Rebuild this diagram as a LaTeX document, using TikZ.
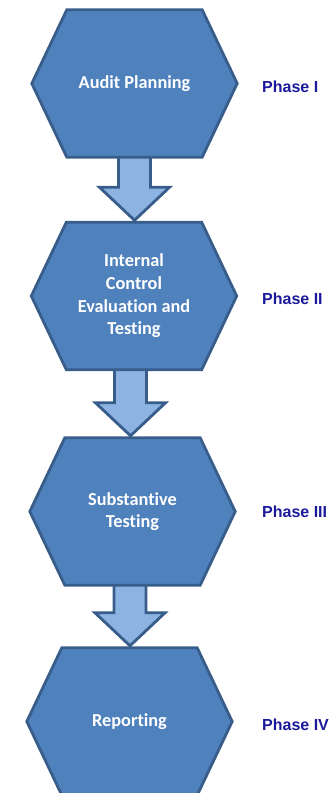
\documentclass[tikz,border=0pt]{standalone}
\usepackage{fontspec}
\setmainfont{Carlito}[Ligatures=NoCommon]
\newfontfamily\phasefont{Liberation Sans}
\usetikzlibrary{calc,backgrounds}
\definecolor{hexfill}{HTML}{4F81BD}
\definecolor{hexline}{HTML}{385D8A}
\definecolor{arrfill}{HTML}{8DB3E2}
\definecolor{phaseblue}{HTML}{1A1A9A}
\begin{document}
\begin{tikzpicture}[x=1pt,y=1pt,
  hexbox/.style={minimum width=205pt, minimum height=147pt, inner sep=0pt, text=white,
    font=\bfseries\fontsize{18.3}{22.7}\selectfont, align=center},
  hexshape/.style={fill=hexfill, draw=hexline, line width=2.8pt, line join=miter},
  arrshape/.style={fill=arrfill, draw=hexline, line width=2.8pt, line join=miter},
  phase/.style={anchor=west, inner sep=0pt, text=phaseblue,
    font=\phasefont\bfseries\fontsize{16}{19}\selectfont}]
\useasboundingbox (0,0) rectangle (331,793);
\clip (0,0) rectangle (331,793);
\node[hexbox] (h1) at (134.5,709.5) {Audit Planning};
\node[hexbox] (h2) at (134,497) {Internal\\Control\\Evaluation and\\Testing};
\node[hexbox] (h3) at (132.5,281.5) {Substantive\\Testing};
\node[hexbox] (h4) at (129.5,71.5) {Reporting};
\node[phase] (p1) at (262,706.7) {Phase I};
\node[phase] (p2) at (262,494.3) {Phase II};
\node[phase] (p3) at (262,280.8) {Phase III};
\node[phase] (p4) at (262,68) {Phase IV};
\begin{scope}[on background layer]
\foreach \a/\b/\ax in {h1/h2/134.5, h2/h3/130.5, h3/h4/130}
  \draw[arrshape] let \p1=(\a.center), \p2=(\b.north) in
    (\ax pt-16pt,\y1) -- (\ax pt-16pt,\y2+35pt) -- (\ax pt-35pt,\y2+35pt) --
    (\ax pt,\y2+2pt) -- (\ax pt+35pt,\y2+35pt) -- (\ax pt+16pt,\y2+35pt) --
    (\ax pt+16pt,\y1) -- cycle;
\foreach \h in {h1,h2,h3,h4}
  \draw[hexshape] (\h.west) -- ($(\h.north west)+(35,0)$) -- ($(\h.north east)+(-35,0)$)
    -- (\h.east) -- ($(\h.south east)+(-35,0)$) -- ($(\h.south west)+(35,0)$) -- cycle;
\end{scope}
\end{tikzpicture}
\end{document}
